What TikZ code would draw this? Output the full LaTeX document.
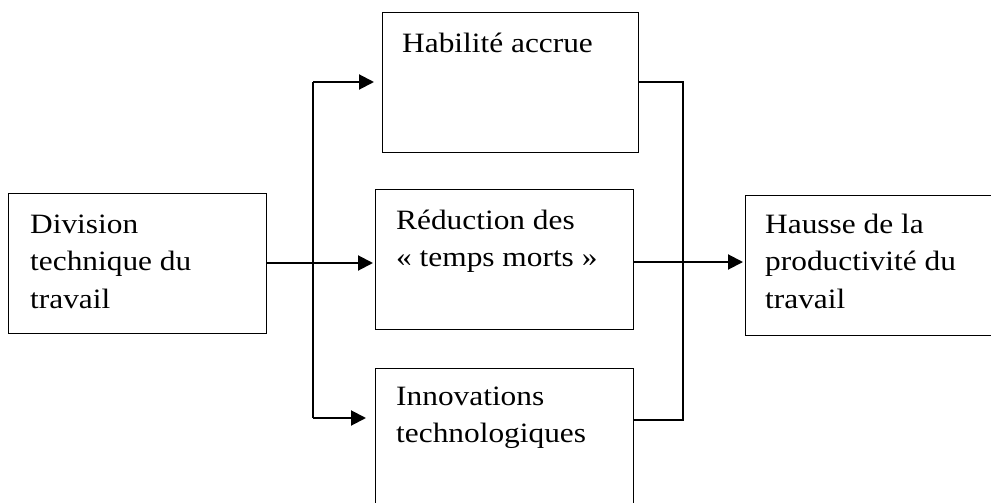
\documentclass[tikz,border=0pt]{standalone}
\usepackage{fontspec}
\setmainfont{Liberation Serif}[FakeStretch=1.12]
\usetikzlibrary{arrows.meta,calc}
\begin{document}
\begin{tikzpicture}[x=1pt,y=-1pt,
  box/.style={draw, line width=1.3pt, rectangle, inner sep=0pt, anchor=north west},
  lbl/.style={anchor=north west, inner sep=0pt, align=left, font=\fontsize{28}{37.5}\selectfont},
  conn/.style={line width=2pt},
  arr/.style={conn, -{Triangle[length=15pt,width=15pt]}}]
\useasboundingbox (0,0) rectangle (991,503);
% boxes
\node[box, minimum width=258pt, minimum height=140pt] (A) at (8,193) {};
\node[box, minimum width=256pt, minimum height=140pt] (B) at (382,12) {};
\node[box, minimum width=258pt, minimum height=140pt] (C) at (375,189) {};
\node[box, minimum width=258pt, minimum height=145pt] (D) at (375,368) {};
\node[box, minimum width=252pt, minimum height=140pt] (E) at (745,195) {};
% labels
\node[lbl] (At) at (30,205) {\rule{0pt}{28pt}Division\\technique du\\travail};
\node[lbl] (Bt) at (402,24) {\rule{0pt}{28pt}Habilité accrue};
\node[lbl] (Ct) at (396,201) {\rule{0pt}{28pt}Réduction des\\« temps morts »};
\node[lbl] (Dt) at (396,377) {\rule{0pt}{28pt}Innovations\\technologiques};
\node[lbl] (Et) at (765,205) {\rule{0pt}{28pt}Hausse de la\\productivité du\\travail};
% junctions
\coordinate (vT) at (313,82);
\coordinate (vB) at (313,418);
\coordinate (rT) at (683,82);
\coordinate (rB) at (683,420);
\coordinate (mL) at (266,263);
\coordinate (mR) at (632,262);
% connectors
\draw[arr, shorten >=2pt] (A.east |- mL) -- (C.west |- mL);
\draw[conn] (vT) -- (vB);
\draw[arr, shorten >=8pt] (vT) -- (B.west |- vT);
\draw[arr, shorten >=9pt] (vB) -- (D.west |- vB);
\draw[conn] (B.east |- rT) -- (rT) -- (rB) -- (D.east |- rB);
\draw[arr, shorten >=2pt] (C.east |- mR) -- (E.west |- mR);
\end{tikzpicture}
\end{document}
